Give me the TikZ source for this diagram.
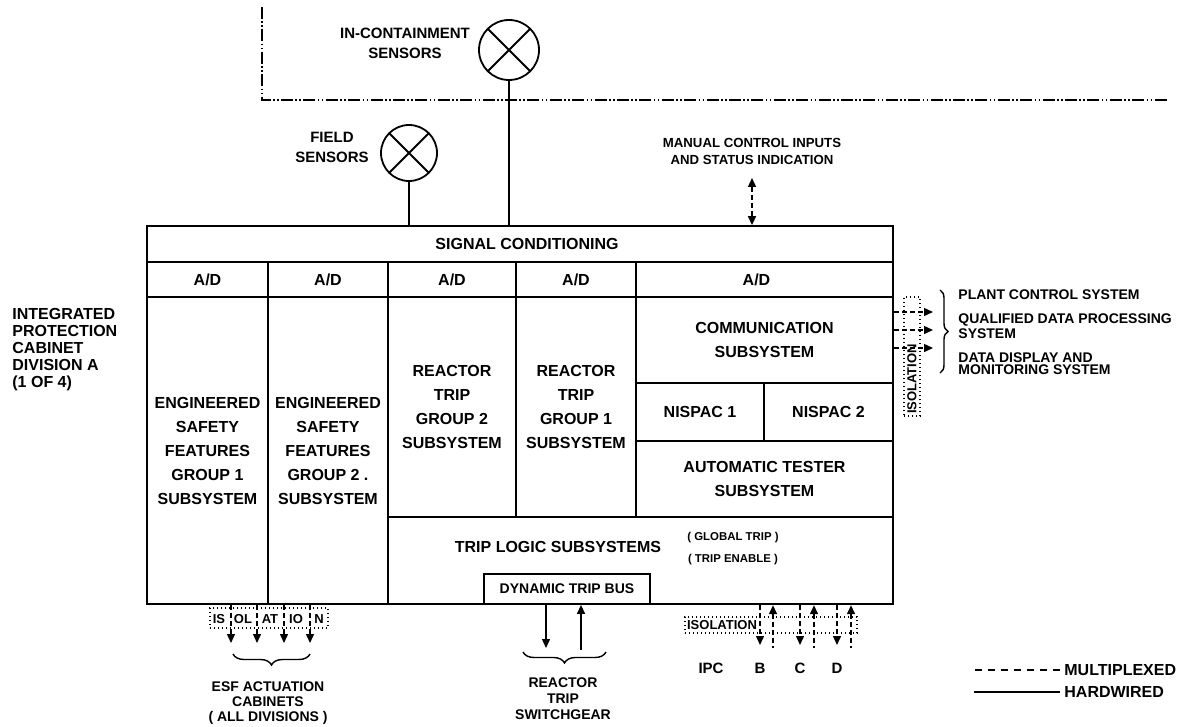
\documentclass[tikz,border=0pt]{standalone}
\usepackage{fontspec}
\setmainfont{Liberation Sans}
\usetikzlibrary{arrows.meta,positioning,calc,decorations.pathreplacing,fit}
\newcommand{\ipcfont}[2]{\fontsize{#1}{#2}\selectfont\bfseries}

\begin{document}
\begin{tikzpicture}[
  x=0.5pt, y=-0.5pt,
  >={Triangle[length=4.5pt,width=4pt]},
  txt/.style={inner sep=0, align=center, font=\ipcfont{8}{12}},
  cell/.style={draw, line width=0.9pt, inner sep=0},
  sens/.style={draw, circle, line width=0.9pt, inner sep=0,
    path picture={\draw[line width=0.9pt]
      (path picture bounding box.north west) -- (path picture bounding box.south east)
      (path picture bounding box.north east) -- (path picture bounding box.south west);}},
  hw/.style={line width=0.7pt},
  mux/.style={line width=0.7pt, dash pattern=on 2.5pt off 1.5pt},
  iso/.style={draw, line width=0.8pt, dash pattern=on 0.6pt off 1.4pt, inner sep=0},
  brc/.style={decorate, decoration={brace, amplitude=4pt}, line width=0.7pt},
  bnd/.style={line width=0.7pt, dash pattern=on 6pt off 1.2pt on 0.8pt off 1.2pt on 0.8pt off 1.2pt}
]
  \useasboundingbox (0,0) rectangle (1177,727);

  % containment boundary
  \coordinate (bndtop) at (262,7);
  \coordinate (bndcor) at (262,100);
  \coordinate (bndend) at (1167,100);
  \draw[bnd] (bndtop) -- (bndcor) -- (bndend);

  % cabinet cells
  \node[cell, fit={(147,226) (893,262)}] (sigc) {};
  \node[cell, fit={(147,262) (268,297)}] (ad1) {};
  \node[cell, fit={(268,262) (388,297)}] (ad2) {};
  \node[cell, fit={(388,262) (516,297)}] (ad3) {};
  \node[cell, fit={(516,262) (636,297)}] (ad4) {};
  \node[cell, fit={(636,262) (893,297)}] (ad5) {};
  \node[cell, fit={(147,297) (268,604)}] (esf1) {};
  \node[cell, fit={(268,297) (388,604)}] (esf2) {};
  \node[cell, fit={(388,297) (516,517)}] (rt2) {};
  \node[cell, fit={(516,297) (636,517)}] (rt1) {};
  \node[cell, fit={(636,297) (893,383)}] (comm) {};
  \node[cell, fit={(636,383) (764,441)}] (nis1) {};
  \node[cell, fit={(764,383) (893,441)}] (nis2) {};
  \node[cell, fit={(636,441) (893,517)}] (atest) {};
  \node[cell, fit={(388,517) (893,604)}] (tlog) {};
  \node[cell, fill=white, fit={(484,574) (650,604)}] (dtb) {};
  \node[draw, line width=1.2pt, inner sep=0, fit={(147,226) (893,604)}] (cab) {};

  \node[txt] (sigcl) at ([xshift=3.5pt]sigc.center) {SIGNAL CONDITIONING};
  \node[txt] (ad1l) at (ad1.center) {A/D};
  \node[txt] (ad2l) at (ad2.center) {A/D};
  \node[txt] (ad3l) at (ad3.center) {A/D};
  \node[txt] (ad4l) at (ad4.center) {A/D};
  \node[txt] (ad5l) at ([xshift=-4pt]ad5.center) {A/D};
  \node[txt] (esf1l) at (esf1.center) {ENGINEERED\\SAFETY\\FEATURES\\GROUP 1\\SUBSYSTEM};
  \node[txt] (esf2l) at (esf2.center) {ENGINEERED\\SAFETY\\FEATURES\\GROUP 2 .\\SUBSYSTEM};
  \node[txt] (rt2l) at (rt2.center) {REACTOR\\TRIP\\GROUP 2\\SUBSYSTEM};
  \node[txt] (rt1l) at (rt1.center) {REACTOR\\TRIP\\GROUP 1\\SUBSYSTEM};
  \node[txt] (comml) at (comm.center) {COMMUNICATION\\SUBSYSTEM};
  \node[txt] (nis1l) at (nis1.center) {NISPAC 1};
  \node[txt] (nis2l) at (nis2.center) {NISPAC 2};
  \node[txt] (atestl) at (atest.center) {AUTOMATIC TESTER\\SUBSYSTEM};
  \node[txt] (tlogl) at (558,547) {TRIP LOGIC SUBSYSTEMS};
  \node[txt, font=\ipcfont{5.7}{11}] (trips) at (733,549) {( GLOBAL TRIP )\\( TRIP ENABLE )};
  \node[txt, font=\ipcfont{7}{8}] (dtbl) at (dtb.center) {DYNAMIC TRIP BUS};

  \node[txt, anchor=west, align=left, font=\ipcfont{8}{8.5}] (cabtxt) at (12,350)
    {INTEGRATED\\PROTECTION\\CABINET\\DIVISION A\\(1 OF 4)};

  % sensors
  \node[sens, minimum size=30pt] (ics) at (509,50) {};
  \node[txt, font=\ipcfont{7.5}{10}] (icstxt) at (405,43) {IN-CONTAINMENT\\SENSORS};
  \node[sens, minimum size=28pt] (fs) at (409,153) {};
  \node[txt, anchor=east, font=\ipcfont{7.5}{10}] (fstxt) at (369,147) {FIELD\\SENSORS};
  \draw[hw] (ics) -- (ics |- sigc.north);
  \draw[hw] (fs) -- (fs |- sigc.north);

  % manual control
  \node[txt, font=\ipcfont{6.6}{8.5}] (mantxt) at (752,151) {MANUAL CONTROL INPUTS\\AND STATUS INDICATION};
  \coordinate (mantop) at (752,178);
  \draw[mux, <->] (mantop) -- (mantop |- sigc.north);

  % outputs to plant systems
  \node[iso, fit={(904,297) (920,416)}] (isor) {};
  \node[txt, rotate=90, font=\ipcfont{6.5}{7}] (isortxt) at (912,379) {ISOLATION};
  \foreach \y in {312,330,348}
    \draw[mux, ->] (cab.east |- 0,\y) -- (933,\y);
  \draw[brc] (940,290) -- (940,373);
  \node[txt, anchor=west, align=left, font=\ipcfont{7}{6}] (pcs) at (958,295) {PLANT CONTROL SYSTEM};
  \node[txt, anchor=west, align=left, font=\ipcfont{7}{6}] (qdps) at (958,326) {QUALIFIED DATA PROCESSING\\SYSTEM};
  \node[txt, anchor=west, align=left, font=\ipcfont{7}{6}] (ddms) at (958,364) {DATA DISPLAY AND\\MONITORING SYSTEM};

  % ESF actuation
  \node[iso, fit={(210,608) (328,628)}] (isol) {};
  \foreach \t/\x in {IS/219, OL/243, AT/270, IO/296, N/319}
    \node[txt, font=\ipcfont{6.5}{7}] (iso\t) at (\x,619) {\t};
  \foreach \x in {231,257,284,310}
    \draw[mux, ->] (cab.south -| \x,0) -- (\x,643);
  \draw[brc, decoration={amplitude=5.5pt}] (310,654) -- (233,654);
  \node[txt, font=\ipcfont{7}{7.5}] (esftxt) at (268,703) {ESF ACTUATION\\CABINETS\\( ALL DIVISIONS )};

  % reactor trip switchgear
  \draw[hw, ->] (dtb.south -| 546,0) -- (546,648);
  \draw[hw, <-] (dtb.south -| 581,0) -- (581,650);
  \draw[brc, decoration={amplitude=5.5pt}] (606,652) -- (523,652);
  \node[txt, font=\ipcfont{7}{8}] (rtsw) at (563,699) {REACTOR\\TRIP\\SWITCHGEAR};

  % other divisions
  \node[iso, fit={(685,617) (857,633)}] (isob) {};
  \node[txt, font=\ipcfont{6.5}{7}] (isobtxt) at (722,625) {ISOLATION};
  \foreach \x in {760,800,837}
    \draw[mux, ->] (cab.south -| \x,0) -- (\x,645);
  \foreach \x in {773,814,851}
    \draw[mux, <-] (cab.south -| \x,0) -- (\x,648);
  \foreach \t/\x in {IPC/711, B/760, C/800, D/837}
    \node[txt, font=\ipcfont{7.5}{8}] (div\t) at (\x,668) {\t};

  % legend
  \node[txt, anchor=west] (legmux) at (1064,670) {MULTIPLEXED};
  \node[txt, anchor=west] (leghw) at (1064,692) {HARDWIRED};
  \draw[line width=0.7pt, dash pattern=on 3.5pt off 3pt] ([xshift=-2pt]legmux.west) -- ++(-86,0);
  \draw[line width=0.7pt] ([xshift=-2pt]leghw.west) -- ++(-86,0);
\end{tikzpicture}
\end{document}
